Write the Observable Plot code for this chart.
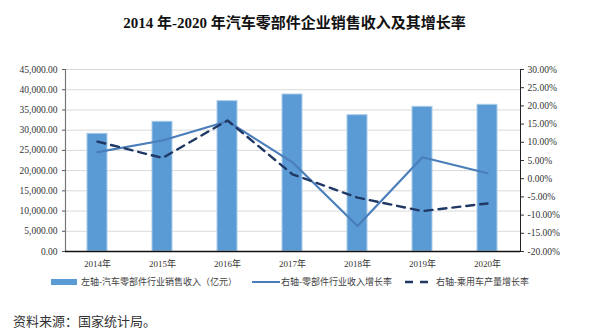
<!DOCTYPE html>
<html>
<head>
<meta charset="utf-8">
<script src="https://cdn.jsdelivr.net/npm/d3@7"></script>
<script src="https://cdn.jsdelivr.net/npm/@observablehq/plot@0.6"></script>
<style>
  html, body { margin: 0; padding: 0; background: #fff; }
  #wrap { position: relative; width: 589px; height: 335px; overflow: hidden; font-family: "Liberation Serif", "Times New Roman", "Noto Sans CJK SC", serif; }
  #title { position: absolute; left: 0; top: 11px; width: 589px; text-align: center; font-size: 15px; font-weight: bold; color: #111; }
  #chart { position: absolute; left: 0; top: 40px; }
  .leg { position: absolute; top: 275px; font-size: 9px; color: #404040; white-space: nowrap; line-height: 14px; }
  #source { position: absolute; left: 13px; top: 311px; font-size: 13px; color: #333; font-family: "Noto Sans CJK SC", serif; }
</style>
</head>
<body>
<div id="wrap">
  <div id="title">2014 年-2020 年汽车零部件企业销售收入及其增长率</div>
  <div id="chart"></div>
  <div id="legend"></div>
  <div id="source">资料来源：国家统计局。</div>
</div>
<script>
// ---- data ----
const years = ["2014年", "2015年", "2016年", "2017年", "2018年", "2019年", "2020年"];
const revenue = [29100, 32070, 37170, 38820, 33700, 35770, 36270];      // 亿元, left axis
const partsGrowth = [7.3, 10.5, 15.8, 4.5, -13.0, 5.9, 1.5];            // %, right axis
const carGrowth = [10.2, 5.7, 16.0, 1.2, -5.2, -8.9, -6.8];             // %, right axis
const leftTicks = [0, 5000, 10000, 15000, 20000, 25000, 30000, 35000, 40000, 45000];
const rightTicks = [-20, -15, -10, -5, 0, 5, 10, 15, 20, 25, 30];
const seriesNames = ["左轴-汽车零部件行业销售收入（亿元）", "右轴-零部件行业收入增长率", "右轴-乘用车产量增长率"];

// right axis domain mapped onto left scale
const L = [0, 45000], R = [-20, 30];
const toLeft = v => L[0] + (v - R[0]) / (R[1] - R[0]) * (L[1] - L[0]);
const toRight = v => R[0] + (v - L[0]) / (L[1] - L[0]) * (R[1] - R[0]);

const barData = years.map((y, i) => ({year: y, value: revenue[i]}));
const partsData = years.map((y, i) => ({year: y, v: toLeft(partsGrowth[i])}));
const carData = years.map((y, i) => ({year: y, v: toLeft(carGrowth[i])}));

const fmtL = d3.format(",.2f");
const fmtR = d => (Math.round(toRight(d) * 100) / 100).toFixed(2) + "%";

const colBar = "#5b9bd5", colLine = "#4a7ebb", colDash = "#1f3864";

const plot = Plot.plot({
  width: 589,
  height: 236,
  marginTop: 29,
  marginBottom: 25,
  marginLeft: 65,
  marginRight: 69,
  style: {fontFamily: '"Liberation Serif", "Times New Roman", "Noto Sans CJK SC", serif', fontSize: "9.5px", color: "#333", background: "#fff"},
  x: {domain: years, paddingInner: 0.69, paddingOuter: 0.345, label: null},
  y: {domain: L, label: null},
  marks: [
    Plot.gridY(leftTicks, {stroke: "#d9d9d9", strokeOpacity: 1, strokeWidth: 1}),
    Plot.barY(barData, {x: "year", y: "value", fill: colBar, stroke: "#a9cbe9", strokeWidth: 1}),
    Plot.line(partsData, {x: "year", y: "v", stroke: colLine, strokeWidth: 2.2}),
    Plot.line(carData, {x: "year", y: "v", stroke: colDash, strokeWidth: 2.4, strokeDasharray: "8,6"}),
    Plot.axisY(leftTicks, {anchor: "left", tickSize: 3, tickPadding: 5, tickFormat: fmtL, label: null, stroke: "#555", fill: "#333"}),
    Plot.axisY(rightTicks.map(toLeft), {anchor: "right", tickSize: 3, tickPadding: 4, tickFormat: fmtR, label: null, stroke: "#333", fill: "#333"}),
    Plot.axisX({tickSize: 0, tickPadding: 9, fontSize: 9, label: null, fill: "#333"}),
    Plot.frame({anchor: "left", stroke: "#777", strokeWidth: 1.2}),
    Plot.frame({anchor: "right", stroke: "#222", strokeWidth: 1}),
    Plot.ruleY([0], {stroke: "#111", strokeWidth: 1.3})
  ]
});
document.getElementById("chart").appendChild(plot);

// legend
const legend = document.getElementById("legend");
const items = [
  {x: 51, textX: 81, w: 26, svg: `<rect x="0" y="4" width="26" height="6" fill="${colBar}"/>`},
  {x: 252, textX: 281, w: 28, svg: `<line x1="0" x2="28" y1="7" y2="7" stroke="${colLine}" stroke-width="2"/>`},
  {x: 405, textX: 436, w: 24, svg: `<line x1="0" x2="24" y1="7" y2="7" stroke="${colDash}" stroke-width="2.4" stroke-dasharray="8,7"/>`}
];
items.forEach((it, i) => {
  const s = document.createElement("div");
  s.className = "leg";
  s.style.left = it.x + "px";
  s.innerHTML = `<svg width="${it.w}" height="14">${it.svg}</svg>`;
  legend.appendChild(s);
  const t = document.createElement("div");
  t.className = "leg";
  t.style.left = it.textX + "px";
  t.textContent = seriesNames[i];
  legend.appendChild(t);
});
</script>
</body>
</html>
